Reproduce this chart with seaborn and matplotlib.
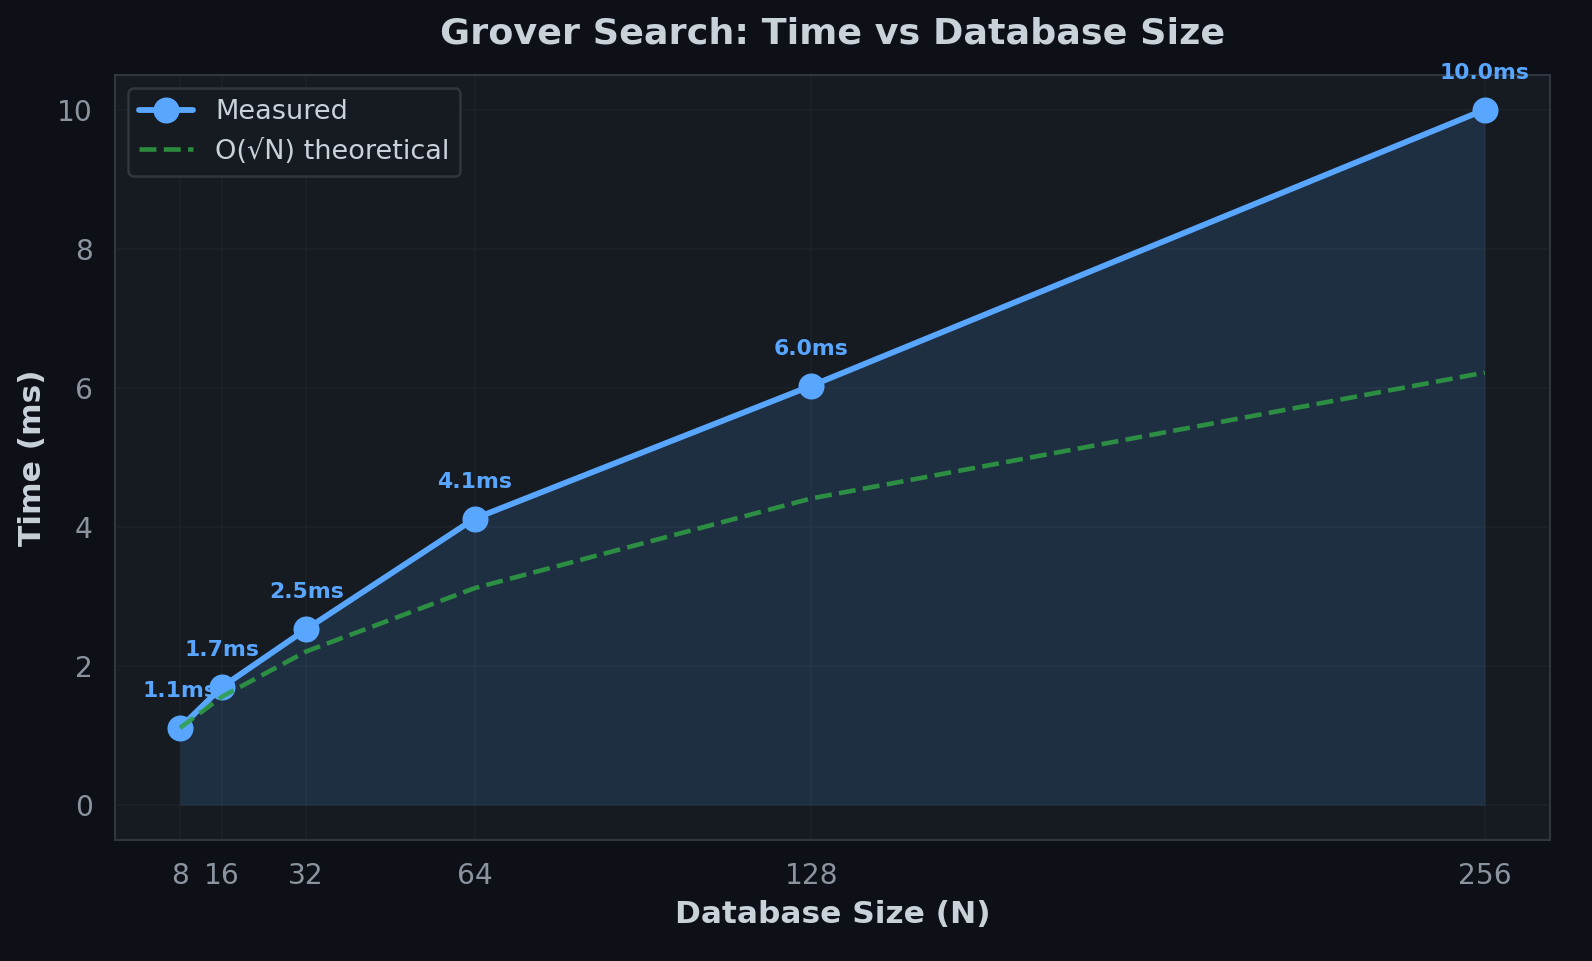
import numpy as np
import pandas as pd
import matplotlib
matplotlib.use("Agg")
import matplotlib.pyplot as plt
import seaborn as sns

# Chart data
db_sizes = [8, 16, 32, 64, 128, 256]
measured_ms = [1.11, 1.70, 2.53, 4.12, 6.03, 10.0]
theory_ms = [1.11, 1.56, 2.21, 3.12, 4.41, 6.22]
labels = ["1.1ms", "1.7ms", "2.5ms", "4.1ms", "6.0ms", "10.0ms"]

BG = "#0d1117"
PANEL = "#161b22"
BLUE = "#58a6ff"
GREEN = "#2ea043"
TEXT = "#c9d1d9"
MUTED = "#8b949e"
EDGE = "#30363d"

sns.set_theme(style="dark", rc={
    "figure.facecolor": BG,
    "axes.facecolor": PANEL,
    "axes.edgecolor": EDGE,
    "grid.color": "#21262d",
    "text.color": TEXT,
    "axes.labelcolor": TEXT,
    "xtick.color": MUTED,
    "ytick.color": MUTED,
})
plt.rcParams['font.family'] = ['DejaVu Sans']

df = pd.DataFrame({"N": db_sizes, "measured": measured_ms, "theory": theory_ms})

fig, ax = plt.subplots(figsize=(10.62, 6.407), dpi=150)
fig.subplots_adjust(left=0.072, right=0.973, top=0.922, bottom=0.126)

ax.fill_between(df["N"], df["measured"], color=BLUE, alpha=0.15, linewidth=0)
sns.lineplot(data=df, x="N", y="measured", ax=ax, color=BLUE, linewidth=2.8,
             marker="o", markersize=12.5, markeredgewidth=0, label="Measured")
sns.lineplot(data=df, x="N", y="theory", ax=ax, color=GREEN, linewidth=2.2,
             linestyle="--", alpha=0.85, label="O(√N) theoretical")

for x, y, t in zip(db_sizes, measured_ms, labels):
    ax.annotate(t, (x, y), xytext=(0, 13), textcoords="offset points",
                ha="center", va="bottom", fontsize=10.5, fontweight="bold", color=BLUE)

ax.set_xticks(db_sizes)
ax.set_xticklabels([str(n) for n in db_sizes])
ax.tick_params(axis="both", labelsize=13.5, length=4.5, color=MUTED, pad=6)
ax.grid(True, color="#21262d", linewidth=0.8, alpha=0.6)
for s in ax.spines.values():
    s.set_color(EDGE)
    s.set_linewidth(1)

ax.set_xlabel("Database Size (N)", fontsize=15, fontweight="bold", color=TEXT, labelpad=5)
ax.set_ylabel("Time (ms)", fontsize=15, fontweight="bold", color=TEXT, labelpad=5)
ax.set_title("Grover Search: Time vs Database Size", fontsize=17.5, fontweight="bold",
             color=TEXT, pad=15)

leg = ax.legend(loc="upper left", fontsize=13, facecolor=PANEL, edgecolor=EDGE,
                framealpha=1, labelcolor=TEXT)
leg.get_frame().set_linewidth(1.2)

fig.savefig("out.png", dpi=150, facecolor=BG)
